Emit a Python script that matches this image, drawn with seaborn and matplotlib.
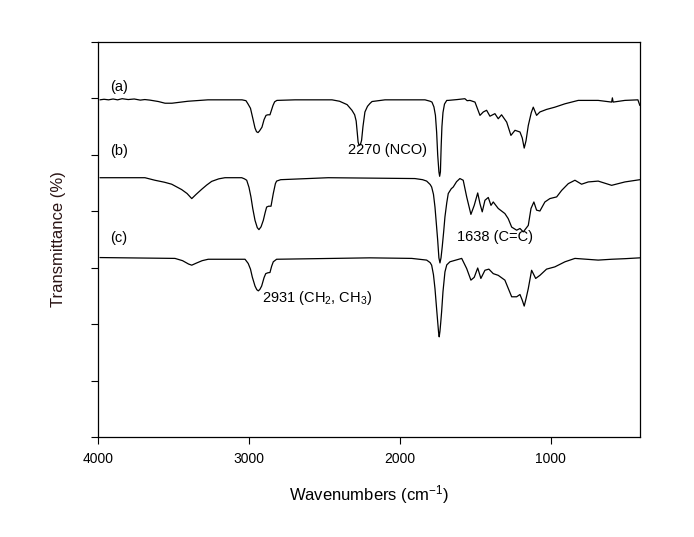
import numpy as np
import pandas as pd
import matplotlib
matplotlib.use("Agg")
import matplotlib.pyplot as plt
import seaborn as sns

# ---- data ----
wn_a = [3987, 3960, 3930, 3900, 3870, 3840, 3800, 3760, 3720, 3690, 3656, 3600, 3556, 3510, 3404,
        3272, 3046, 3020, 3007, 2990, 2974, 2960, 2950, 2940, 2930, 2914, 2900, 2887, 2875, 2861,
        2850, 2841, 2830, 2815, 2695, 2450, 2400, 2350, 2318, 2300, 2290, 2283, 2277, 2270, 2262,
        2254, 2245, 2232, 2215, 2199, 2185, 2099, 1834, 1800, 1788, 1775, 1765, 1757, 1750, 1742,
        1737, 1732, 1727, 1722, 1715, 1705, 1690, 1680, 1620, 1570, 1555, 1536, 1503, 1470, 1448,
        1426, 1404, 1371, 1349, 1327, 1293, 1265, 1238, 1205, 1190, 1177, 1165, 1150, 1130, 1117,
        1095, 1073, 1029, 974, 907, 819, 687, 598, 593, 588, 510, 424, 411]
t_a = [119.5, 119.7, 119.5, 119.8, 119.5, 119.9, 119.6, 119.8, 119.4, 119.6, 119.4, 118.9, 118.3, 118.3, 119.0,
       119.5, 119.5, 119.2, 118.1, 116.5, 112.8, 109.5, 108.2, 107.9, 108.5, 109.8, 112.5, 114.0, 114.2, 114.2,
       116.0, 117.5, 118.8, 119.3, 119.5, 119.5, 119.0, 117.8, 115.8, 114.2, 112.0, 108.0, 104.5, 103.4, 103.6,
       105.2, 110.0, 115.2, 117.2, 118.2, 118.9, 119.5, 119.5, 119.0, 118.7, 117.0, 114.0, 108.0, 100.0, 94.0,
       92.4, 94.0, 103.0, 110.0, 115.0, 118.0, 119.3, 119.3, 119.6, 119.9, 119.2, 119.3, 118.7, 114.0, 115.2,
       115.8, 113.7, 114.6, 112.8, 114.2, 111.6, 106.9, 108.7, 108.1, 106.0, 102.4, 105.0, 110.4, 115.0, 116.9,
       114.0, 115.2, 116.1, 116.9, 118.1, 119.3, 119.3, 118.7, 120.2, 118.7, 119.3, 119.5, 117.5]

wn_b = [3987, 3689, 3623, 3560, 3512, 3446, 3410, 3379, 3350, 3313, 3280, 3247, 3200, 3159, 3048,
        3030, 3015, 3000, 2987, 2975, 2960, 2945, 2934, 2920, 2905, 2893, 2883, 2870, 2854, 2845,
        2839, 2825, 2817, 2790, 2475, 1901, 1850, 1823, 1800, 1790, 1778, 1768, 1758, 1750, 1742,
        1735, 1728, 1720, 1710, 1702, 1690, 1680, 1660, 1647, 1625, 1603, 1581, 1558, 1530, 1508,
        1485, 1470, 1455, 1437, 1415, 1397, 1382, 1349, 1305, 1283, 1260, 1227, 1205, 1183, 1150,
        1132, 1113, 1095, 1073, 1040, 1007, 962, 929, 885, 841, 797, 753, 687, 598, 510, 411]
t_b = [91.9, 91.9, 91.0, 90.3, 89.6, 87.7, 86.3, 84.5, 86.0, 87.8, 89.3, 90.6, 91.5, 91.9, 91.9,
       91.5, 91.0, 88.5, 85.1, 81.0, 76.8, 74.2, 73.5, 74.5, 76.8, 79.5, 81.5, 81.8, 81.8, 84.5,
       86.3, 89.8, 90.7, 91.2, 91.9, 91.6, 91.2, 90.7, 89.5, 88.6, 86.0, 81.5, 75.0, 69.7, 63.5,
       61.7, 63.5, 67.4, 73.0, 78.0, 83.0, 86.3, 88.0, 88.6, 90.5, 91.6, 91.0, 85.1, 78.9, 82.1,
       86.5, 82.7, 79.8, 83.9, 84.9, 82.1, 83.3, 81.0, 79.2, 77.4, 74.4, 73.3, 73.9, 72.7, 75.0,
       81.0, 83.3, 80.4, 80.1, 83.3, 84.5, 85.1, 87.4, 89.8, 91.0, 89.6, 90.4, 90.7, 89.2, 90.4, 91.2]

wn_c = [3987, 3490, 3440, 3400, 3379, 3350, 3310, 3270, 3026, 3005, 2990, 2978, 2960, 2948, 2938,
        2928, 2916, 2900, 2889, 2875, 2861, 2850, 2839, 2817, 2199, 1922, 1823, 1800, 1790, 1778,
        1768, 1758, 1750, 1744, 1740, 1735, 1730, 1724, 1715, 1702, 1690, 1669, 1591, 1558, 1530,
        1508, 1485, 1464, 1437, 1411, 1382, 1349, 1305, 1260, 1227, 1205, 1190, 1177, 1165, 1150,
        1128, 1101, 1073, 1029, 974, 907, 841, 687, 598, 510, 411]
t_c = [63.6, 63.3, 62.5, 61.3, 60.9, 61.6, 62.5, 63.0, 63.0, 61.5, 59.5, 56.7, 53.5, 52.2, 51.8,
       52.3, 53.5, 56.5, 57.9, 58.2, 58.3, 60.5, 62.1, 63.0, 63.5, 63.3, 62.7, 61.8, 60.9, 57.5,
       52.6, 46.0, 40.8, 37.0, 35.5, 37.5, 40.5, 44.4, 51.5, 58.5, 61.0, 62.1, 63.3, 59.7, 55.6,
       56.6, 59.9, 56.2, 59.1, 59.5, 57.9, 57.3, 55.6, 49.7, 49.7, 50.5, 48.5, 46.4, 49.0, 52.6,
       59.1, 56.2, 57.3, 59.5, 60.3, 62.1, 63.3, 62.7, 63.0, 63.2, 63.5]

trace_labels = ["(a)", "(b)", "(c)"]
peak_labels = ["2270 (NCO)", "1638 (C=C)", "2931 (CH$_2$, CH$_3$)"]
x_ticks = [4000, 3000, 2000, 1000]
x_label = "Wavenumbers (cm$^{-1}$)"
y_label = "Transmittance (%)"

# ---- build long table ----
df = pd.concat([
    pd.DataFrame({"wn": wn_a, "T": t_a, "trace": "a"}),
    pd.DataFrame({"wn": wn_b, "T": t_b, "trace": "b"}),
    pd.DataFrame({"wn": wn_c, "T": t_c, "trace": "c"}),
], ignore_index=True)

sns.set_style("ticks")
plt.rcParams["font.family"] = ["Liberation Sans", "DejaVu Sans"]
plt.rcParams["mathtext.fontset"] = "custom"
plt.rcParams["mathtext.rm"] = "Liberation Sans"
plt.rcParams["mathtext.it"] = "Liberation Sans"
plt.rcParams["text.color"] = "black"
plt.rcParams["axes.labelcolor"] = "black"
plt.rcParams["xtick.color"] = "black"
plt.rcParams["ytick.color"] = "black"

fig = plt.figure(figsize=(6.94, 5.37), dpi=100)
ax = fig.add_axes([0.1412, 0.1862, 0.7810, 0.7356])

sns.lineplot(data=df, x="wn", y="T", hue="trace", units="trace", estimator=None,
             palette=["black", "black", "black"], linewidth=0.9, legend=False, ax=ax)

ax.set_xlim(4000, 410)
ax.set_ylim(0, 140)
ax.set_xticks(x_ticks)
ax.set_xticklabels([str(v) for v in x_ticks], fontsize=10)
ax.set_yticks(np.arange(0, 141, 20))
ax.set_yticklabels([])
ax.tick_params(direction="out", length=5, width=0.8, color="black", pad=6)
for s in ax.spines.values():
    s.set_visible(True)
    s.set_linewidth(0.9)
    s.set_color("black")

ax.set_xlabel(x_label, fontsize=12, labelpad=12)
ax.set_ylabel(y_label, fontsize=12, labelpad=12, color="#2a1414")

# trace labels
for lab, y in zip(trace_labels, [124.2, 101.2, 70.4]):
    ax.text(3921, y, lab, fontsize=10.5, ha="left", va="center")

ax.text(2344, 101.6, peak_labels[0], fontsize=10.5, ha="left", va="center")
ax.text(1623, 70.8, peak_labels[1], fontsize=10.5, ha="left", va="center")
ax.text(2914, 49.2, peak_labels[2], fontsize=10.5, ha="left", va="center")

fig.savefig("out.png", dpi=100)
